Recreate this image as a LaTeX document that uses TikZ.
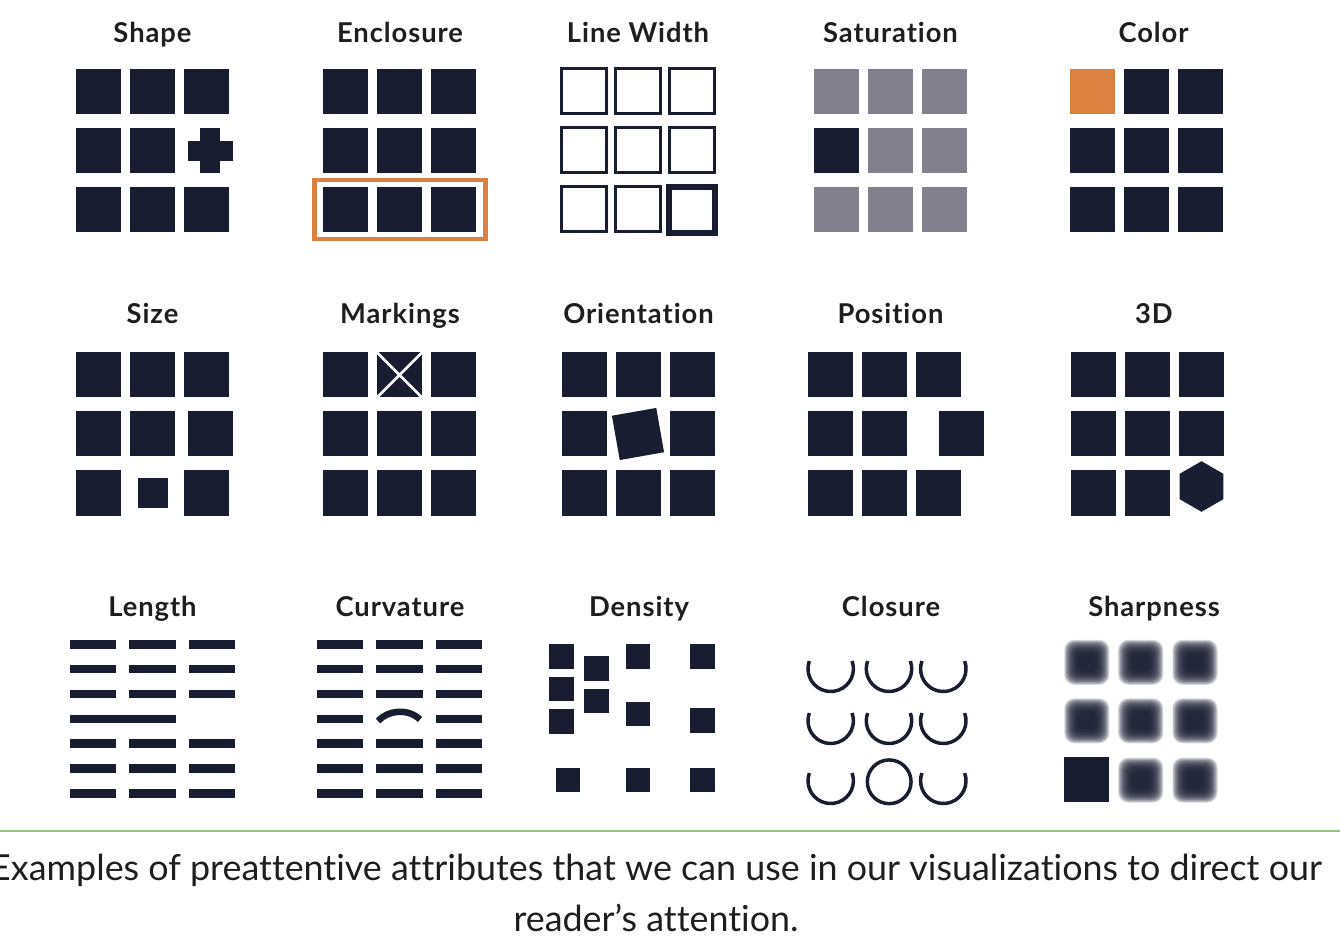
\documentclass[tikz,border=0pt]{standalone}
\usepackage{fontspec}
\setmainfont{Lato}[Ligatures=NoCommon]
\newfontfamily\titlefont[LetterSpace=3.5,Ligatures=NoCommon]{Lato}
\definecolor{navy}{RGB}{24,29,48}
\definecolor{satgray}{RGB}{129,128,140}
\definecolor{encorange}{RGB}{216,129,64}
\definecolor{rulegreen}{RGB}{150,200,135}
\definecolor{txt}{RGB}{30,30,30}
\newcommand\sqr[3][navy]{\fill[#1] (#2,#3) ++(-22.5,-22.5) rectangle ++(45,45);}
\newcommand\osq[2]{\draw[navy,line width=2.25pt] (#1,#2) ++(-22.5,-22.5) rectangle ++(45,45);}
\newcommand\dsq[2]{\fill[navy] (#1,#2) ++(-12.35,-12.35) rectangle ++(24.7,24.7);}
\newcommand\hbarline[3]{\fill[navy] (#1,#3) ++(0,-4.25) rectangle (#2,#3+4.25);}
\newcommand\blursq[2]{\foreach \k in {0,...,15}{\pgfmathsetmacro\hs{22.5-0.95*\k}\fill[navy,fill opacity=0.18,rounded corners={(10-0.35*\k)*0.75pt}] (#1,#2) ++(-\hs,-\hs) rectangle ++(2*\hs,2*\hs);}}
\begin{document}
\begin{tikzpicture}[x=0.75pt,y=-0.75pt,
  ttl/.style={anchor=base,text=txt,font=\titlefont\bfseries\fontsize{20.5}{24}\selectfont,inner sep=0pt},
  captext/.style={anchor=base,text=txt,font=\fontsize{26.9}{32}\selectfont,inner sep=0pt}]
\useasboundingbox (0,0) rectangle (1340,952);
% ---------- titles ----------
\node[ttl] (tShape) at (152.5,42.3) {Shape};
\node[ttl] (tEnc) at (400,42.3) {Enclosure};
\node[ttl] (tLW) at (638,42.3) {Line Width};
\node[ttl] (tSat) at (890.5,42.3) {Saturation};
\node[ttl] (tCol) at (1153.5,42.3) {Color};
\node[ttl] (tSize) at (152.5,323.5) {Size};
\node[ttl] (tMark) at (400,323.5) {Markings};
\node[ttl] (tOri) at (638.5,323.5) {Orientation};
\node[ttl] (tPos) at (890.5,323.5) {Position};
\node[ttl] (t3D) at (1154,323.5) {3D};
\node[ttl] (tLen) at (152.5,616.5) {Length};
\node[ttl] (tCurv) at (400,616.5) {Curvature};
\node[ttl] (tDen) at (639,616.5) {Density};
\node[ttl] (tClo) at (891,616.5) {Closure};
\node[ttl] (tSharp) at (1154,616.5) {Sharpness};
% ---------- Shape ----------
\foreach \y in {91.5,150.5,209.5}{\foreach \x in {98.5,152.5,206.5}{
  \ifdim\y pt=150.5pt \ifdim\x pt=206.5pt \else \sqr{\x}{\y}\fi \else \sqr{\x}{\y}\fi}}
\fill[navy] (200,128) rectangle (220.3,173.3);
\fill[navy] (187.7,140.7) rectangle (232.7,160.7);
% ---------- Enclosure ----------
\foreach \y in {91.5,150.5,209.5}{\foreach \x in {345.5,399.5,453.5}{\sqr{\x}{\y}}}
\draw[encorange,line width=3.4pt] (314.6,180) rectangle (485.4,239);
% ---------- Line Width ----------
\foreach \y in {91.5,150.5,209.5}{\foreach \x in {584,638,692}{
  \ifdim\y pt=209.5pt \ifdim\x pt=692pt \else \osq{\x}{\y}\fi \else \osq{\x}{\y}\fi}}
\draw[navy,line width=4.5pt] (669,186.7) rectangle (715,232.7);
% ---------- Saturation ----------
\foreach \y in {91.5,150.5,209.5}{\foreach \x in {836.5,890.5,944.5}{\sqr[satgray]{\x}{\y}}}
\sqr{836.5}{150.5}
% ---------- Color ----------
\foreach \y in {91.5,150.5,209.5}{\foreach \x in {1092,1146,1200}{\sqr{\x}{\y}}}
\sqr[encorange]{1092}{91.5}
% ---------- Size ----------
\sqr{98.5}{375}\sqr{152.5}{375}\sqr{206.5}{375}
\sqr{98.5}{434}\sqr{152.5}{434}\sqr{210.2}{434}
\sqr{98.5}{493}\sqr{206.5}{493}
\fill[navy] (137.5,478) rectangle (167.5,508);
% ---------- Markings ----------
\foreach \y in {375,434,493}{\foreach \x in {345.5,399.5,453.5}{\sqr{\x}{\y}}}
\draw[white,line width=2pt] (377,352.5) -- (422,397.5) (422,352.5) -- (377,397.5);
% ---------- Orientation ----------
\foreach \y in {375,434,493}{\foreach \x in {584,638,692}{
  \ifdim\y pt=434pt \ifdim\x pt=638pt \else \sqr{\x}{\y}\fi \else \sqr{\x}{\y}\fi}}
\fill[navy] (611.93,415.75) -- (656.25,407.93) -- (664.07,452.25) -- (619.75,460.07) -- cycle;
% ---------- Position ----------
\sqr{830.5}{375}\sqr{884.5}{375}\sqr{938.5}{375}
\sqr{830.5}{434}\sqr{884.5}{434}\sqr{961.4}{434}
\sqr{830.5}{493}\sqr{884.5}{493}\sqr{938.5}{493}
% ---------- 3D ----------
\sqr{1093}{375}\sqr{1147}{375}\sqr{1201}{375}
\sqr{1093}{434}\sqr{1147}{434}\sqr{1201}{434}
\sqr{1093}{493}\sqr{1147}{493}
\fill[navy] (1201.5,461.2) -- (1223.4,473.85) -- (1223.4,499.15) -- (1201.5,511.8) -- (1179.6,499.15) -- (1179.6,473.85) -- cycle;
% ---------- Length ----------
\foreach \i in {0,1,2,4,5,6}{
  \pgfmathsetmacro\yy{644.3+24.83*\i}
  \hbarline{70}{116}{\yy}\hbarline{129.3}{175.7}{\yy}\hbarline{189}{235.3}{\yy}}
\hbarline{70}{175.5}{718.8}
% ---------- Curvature ----------
\foreach \i in {0,1,2,3,4,5,6}{
  \pgfmathsetmacro\yy{644.3+24.83*\i}
  \hbarline{317}{363.3}{\yy}\hbarline{436}{482.3}{\yy}
  \ifnum\i=3 \else \hbarline{376.3}{422.7}{\yy}\fi}
\draw[navy,line width=4.9pt] (378,721) .. controls (388,710) and (408,708) .. (420,719.5);
% ---------- Density ----------
\dsq{561.3}{656.3}\dsq{561.3}{689}\dsq{561.3}{721.7}
\dsq{596.7}{668.3}\dsq{596.7}{701}
\dsq{638}{656.3}\dsq{638}{714}
\dsq{702.7}{656.3}\dsq{702.7}{720.8}
\dsq{568}{780}\dsq{638}{780}\dsq{702.7}{780}
% ---------- Closure ----------
\foreach \y in {668.8,720.8}{\foreach \x in {830.7,889,943.3}{
  \draw[navy,line width=2.6pt] (\x,\y) ++(20:17.03pt) arc[start angle=20,end angle=-200,radius=17.03pt];}}
\foreach \x in {830.7,943.3}{
  \draw[navy,line width=2.6pt] (\x,780.8) ++(20:17.03pt) arc[start angle=20,end angle=-200,radius=17.03pt];}
\draw[navy,line width=2.6pt] (889.2,781.8) circle[radius=16.4pt];
% ---------- Sharpness ----------
\foreach \y in {662.3,720.8}{\foreach \x in {1086.8,1140.7,1195}{\blursq{\x}{\y}}}
\blursq{1140.7}{780.1}\blursq{1195}{780.1}
\sqr{1086.8}{779.8}
% ---------- rule and caption ----------
\draw[rulegreen,line width=1.5pt] (0,831) -- (1340,831);
\node[captext] (cap1) at (656,880.7) {Examples of preattentive attributes that we can use in our visualizations to direct our};
\node[captext] (cap2) at (656,931.7) {reader’s attention.};
\end{tikzpicture}
\end{document}
